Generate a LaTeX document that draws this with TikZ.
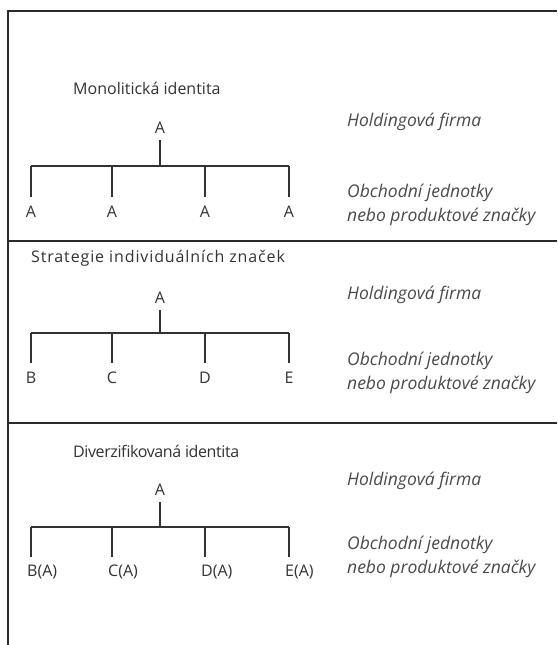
\documentclass[tikz,border=0pt]{standalone}
\usepackage{fontspec}
\setmainfont{Open Sans}
\definecolor{ink}{HTML}{333333}
\definecolor{soft}{HTML}{4A4A4A}
\definecolor{rule}{HTML}{2A2A2A}
\begin{document}
\begin{tikzpicture}[x=1pt,y=-1pt,
  frame/.style={draw=rule,line width=1.8pt},
  branch/.style={draw=ink,line width=1.7pt},
  txt/.style={font=\fontsize{16}{19}\selectfont,text=ink},
  title/.style={txt,anchor=mid west,inner sep=0pt},
  note/.style={txt,anchor=mid west,inner sep=0pt,text=soft,font=\fontsize{17.5}{20}\selectfont\itshape},
  root/.style={txt,anchor=south,inner xsep=0pt,inner ysep=6.5pt},
  leaf/.style={txt,anchor=north,inner xsep=0pt,inner ysep=8.5pt},
  leafw/.style={txt,anchor=north west,inner xsep=0pt,inner ysep=8pt},
]
\useasboundingbox (0,0) rectangle (557,645);
\fill[white] (0,0) rectangle (557,645);

% frame and section dividers
\draw[frame] (557,11) -- (8,11) -- (8,645);
\draw[frame] (8,241) -- (557,241);
\draw[frame] (8,423) -- (557,423);

% ---------- section 1: monolithic identity ----------
\node[title] (t1) at (73,92) {Monolitická identita};
\node[root] (r1) at (160,140) {A};
\coordinate (h1) at (160,166);
\foreach \i/\x in {1/31,2/112,3/205,4/289}
  \coordinate (a\i) at (\x,166);
\foreach \i/\x in {1/31,2/112,3/205,4/289}
  \node[leaf] (l1\i) at (\x,197) {A};
\draw[branch] (r1.south) -- (h1);
\draw[branch] (a1) -- (a4);
\foreach \i in {1,...,4}
  \draw[branch] (a\i) -- (a\i |- l1\i.north);
\node[note] (n11) at (347,124) {Holdingová firma};
\node[note] (n12) at (347,195) {Obchodní jednotky};
\node[note] (n13) at (347,219) {nebo produktové značky};

% ---------- section 2: individual brands ----------
\node[title,font=\fontsize{16}{19}\selectfont\addfontfeatures{LetterSpace=5.5}] (t2) at (31,260) {Strategie individuálních značek};
\node[root] (r2) at (160,310) {A};
\coordinate (h2) at (160,333);
\foreach \i/\x in {1/31,2/112,3/205,4/289}
  \coordinate (b\i) at (\x,333);
\foreach \i/\x/\t in {1/31/B,2/112/C,3/205/D,4/289/E}
  \node[leaf] (l2\i) at (\x,363) {\t};
\draw[branch] (r2.south) -- (h2);
\draw[branch] (b1) -- (b4);
\foreach \i in {1,...,4}
  \draw[branch] (b\i) -- (b\i |- l2\i.north);
\node[note] (n21) at (347,297) {Holdingová firma};
\node[note] (n22) at (347,363) {Obchodní jednotky};
\node[note] (n23) at (347,387) {nebo produktové značky};

% ---------- section 3: diversified identity ----------
\node[title,font=\fontsize{16}{19}\selectfont\addfontfeatures{LetterSpace=-2.5}] (t3) at (73,455) {Diverzifikovaná identita};
\node[root] (r3) at (160,502) {A};
\coordinate (h3) at (160,527);
\foreach \i/\x in {1/31,2/112,3/205,4/289}
  \coordinate (c\i) at (\x,527);
\foreach \i/\x/\t in {1/31/B(A),2/112/C(A),3/205/D(A),4/289/E(A)}
  \node[leafw] (l3\i) at (\x-4,557) {\t};
\draw[branch] (r3.south) -- (h3);
\draw[branch] (c1) -- (c4);
\foreach \i in {1,...,4}
  \draw[branch] (c\i) -- (c\i |- l3\i.north);
\node[note] (n31) at (347,483) {Holdingová firma};
\node[note] (n32) at (347,547) {Obchodní jednotky};
\node[note] (n33) at (347,571) {nebo produktové značky};
\end{tikzpicture}
\end{document}
